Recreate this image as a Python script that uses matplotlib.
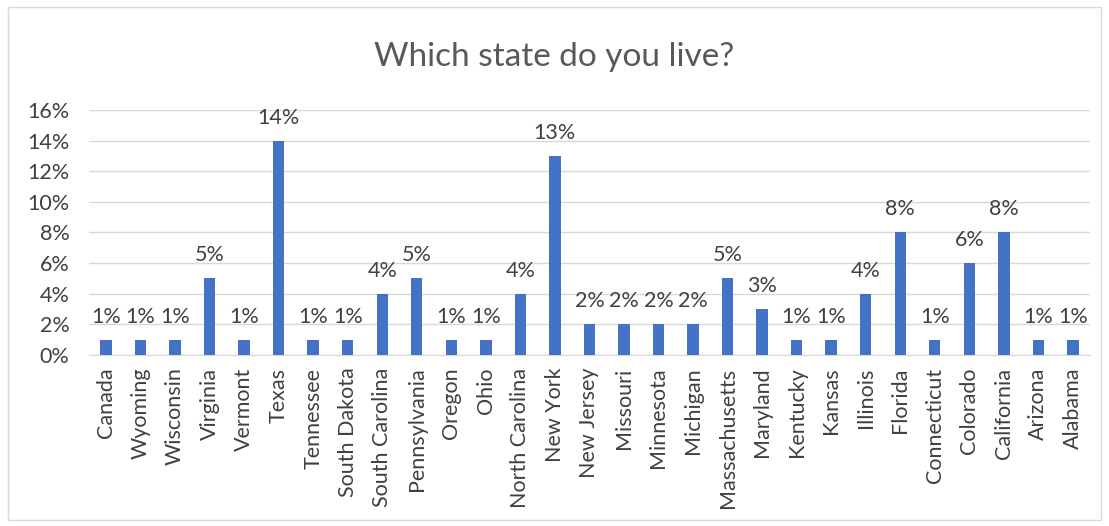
import matplotlib
matplotlib.use('Agg')
import matplotlib.pyplot as plt
from matplotlib.ticker import PercentFormatter
from matplotlib.patches import Rectangle

states = ['Canada', 'Wyoming', 'Wisconsin', 'Virginia', 'Vermont', 'Texas',
          'Tennessee', 'South Dakota', 'South Carolina', 'Pennsylvania',
          'Oregon', 'Ohio', 'North Carolina', 'New York', 'New Jersey',
          'Missouri', 'Minnesota', 'Michigan', 'Massachusetts', 'Maryland',
          'Kentucky', 'Kansas', 'Illinois', 'Florida', 'Connecticut',
          'Colorado', 'California', 'Arizona', 'Alabama']
share = [1, 1, 1, 5, 1, 14, 1, 1, 4, 5, 1, 1, 4, 13, 2, 2, 2, 2, 5, 3,
         1, 1, 4, 8, 1, 6, 8, 1, 1]
yticks = [0, 2, 4, 6, 8, 10, 12, 14, 16]

plt.rcParams['font.family'] = ['Lato', 'DejaVu Sans']

fig = plt.figure(figsize=(11.09, 5.26), dpi=100)
# chart border
fig.patches.append(Rectangle((0.007, 0.012), 0.986, 0.975, transform=fig.transFigure,
                             fill=False, edgecolor='#d9d9d9', linewidth=1))

ax = fig.add_axes([0.080, 0.325, 0.903, 0.466])
x = range(len(states))
bars = ax.bar(x, share, width=0.33, color='#4472C4', zorder=3)

# value labels above the bars
for xi, v in zip(x, share):
    ax.text(xi, v + 0.85, f'{v}%', ha='center', va='bottom', fontsize=15.5, color='#404040')

ax.set_xlim(-0.5, len(states) - 0.5)
ax.set_ylim(0, 16)
ax.set_yticks(yticks)
ax.yaxis.set_major_formatter(PercentFormatter(decimals=0))
ax.set_xticks(list(x))
ax.set_xticklabels(states, rotation=90)
ax.tick_params(axis='both', length=0, labelsize=15.5, labelcolor='#404040')
ax.tick_params(axis='x', pad=9)
ax.tick_params(axis='y', pad=14)
ax.grid(axis='y', color='#d9d9d9', linewidth=1, zorder=0)
for side in ['top', 'right', 'left']:
    ax.spines[side].set_visible(False)
ax.spines['bottom'].set_color('#d9d9d9')

fig.text(0.5, 0.892, 'Which state do you live?', ha='center', va='center',
         fontsize=24, color='#595959')

fig.savefig('out.png', dpi=100)
